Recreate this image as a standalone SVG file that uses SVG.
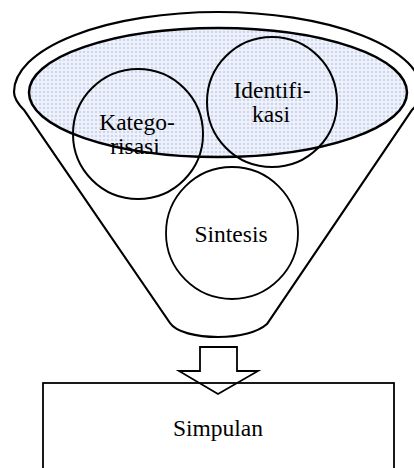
<svg xmlns="http://www.w3.org/2000/svg" width="414" height="468" viewBox="0 0 414 468">
<defs>
<pattern id="dots" width="4" height="4" patternUnits="userSpaceOnUse">
<rect width="4" height="4" fill="#cdd6ee"/>
<rect x="1" y="0" width="2" height="4" fill="#ebeff9"/>
<rect x="0" y="1" width="4" height="2" fill="#ebeff9"/>
<rect x="1.5" y="1.5" width="1" height="1" fill="#ffffff"/>
</pattern>
<style>
.ln{fill:none;stroke:#000;}
.txt{font-family:"Liberation Serif","Times New Roman",serif;font-size:23.5px;fill:#000;text-anchor:middle;}
</style>
</defs>
<g id="funnel">
<path class="ln" stroke-width="2.2" d="M170,323 L24,110 Q14,100 14,92 A204,80 0 0 1 422,92 Q422,100 412,110 L267,324 C258,332 240,337 218,337 C196,337 176,332 170,323 Z"/>
<ellipse cx="218" cy="92.5" rx="189" ry="64.5" fill="url(#dots)" stroke="#000" stroke-width="2.5"/>
</g>
<g id="kategorisasi">
<circle class="ln" cx="138" cy="134" r="65" stroke-width="2"/>
<text class="txt" x="137" y="130">Katego-</text>
<text class="txt" x="135" y="154">risasi</text>
</g>
<g id="identifikasi">
<circle class="ln" cx="272" cy="102" r="65" stroke-width="2"/>
<text class="txt" x="272" y="98">Identifi-</text>
<text class="txt" x="271" y="122">kasi</text>
</g>
<g id="sintesis">
<circle class="ln" cx="232" cy="233" r="66" stroke-width="1.8"/>
<text class="txt" x="231" y="242">Sintesis</text>
</g>
<g id="connectors">
<path d="M200,347 L237,347 L237,371 L258,371 L218,394 L179,371 L200,371 Z" fill="#fff" stroke="#000" stroke-width="1.8"/>
</g>
<g id="simpulan">
<rect class="ln" x="43" y="383" width="351" height="100" stroke-width="1.8"/>
<text class="txt" x="218" y="436">Simpulan</text>
</g>
</svg>
